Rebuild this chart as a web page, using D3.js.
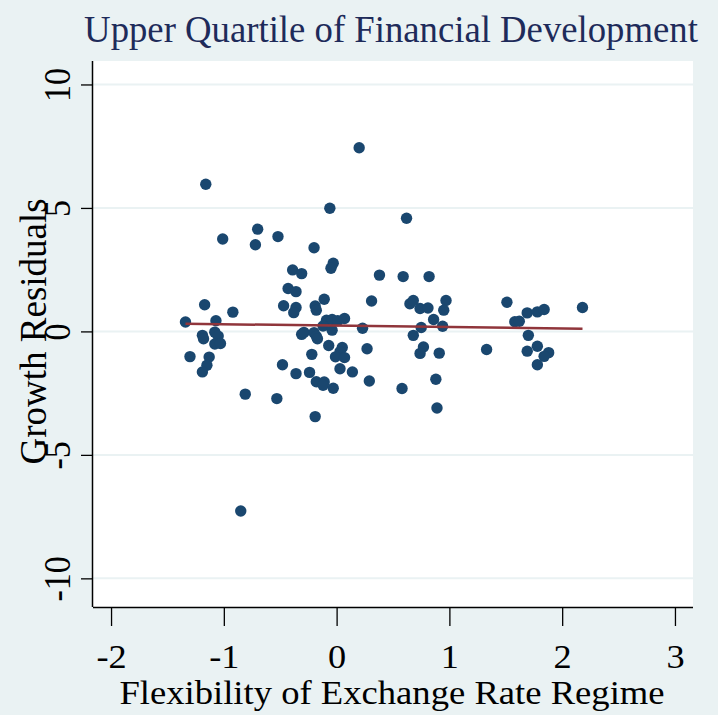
<!DOCTYPE html>
<html><head><meta charset="utf-8">
<script src="https://cdn.jsdelivr.net/npm/d3@7"></script>
<style>html,body{margin:0;padding:0;background:#eaf2f3;}svg{display:block;}</style>
</head><body>
<svg id="chart" width="718" height="715"></svg>
<script>
// Flexibility of exchange rate regime (x) and growth residuals (y)
const flexibility = [0.20,-1.16,-0.06,0.62,-1.01,-0.70,-0.72,-0.52,-0.20,-0.03,-0.05,-0.39,-0.31,0.38,0.59,0.82,-0.43,-0.36,-1.17,-0.92,-0.47,-0.36,-0.38,-0.19,-0.18,-0.11,0.31,0.65,0.68,0.74,0.81,0.97,0.95,0.86,0.75,0.94,0.68,0.77,0.74,0.91,0.88,0.89,0.58,1.33,1.51,1.58,1.62,1.69,1.78,1.84,2.18,1.70,1.78,1.69,1.88,1.84,1.78,-1.34,-1.07,-1.19,-1.18,-1.08,-1.05,-1.08,-1.03,-1.30,-1.13,-1.15,-1.19,-0.81,-0.53,-0.85,-0.19,-0.48,-0.36,-0.24,-0.22,-0.18,-0.11,-0.12,-0.03,-0.07,0.05,0.03,-0.01,0.07,0.03,0.14,0.27,0.29,0.23,-0.31,-0.29,-0.20,-0.18,-0.17,-0.09,-0.04,0.01,0.07,-0.12,-0.04];
const residuals = [7.44,5.96,4.99,4.58,3.74,4.14,3.51,3.84,3.39,2.76,2.56,2.49,2.34,2.28,2.22,2.22,1.74,1.61,1.08,0.78,1.04,0.97,0.76,1.03,0.86,1.30,1.23,1.12,1.25,0.93,0.95,1.25,0.86,0.48,0.16,0.21,-0.16,-0.63,-0.89,-0.88,-1.94,-3.10,-2.31,-0.73,1.18,0.39,0.41,0.75,0.79,0.89,0.97,-0.16,-0.60,-0.80,-0.86,-1.01,-1.35,0.38,0.43,-0.16,-0.30,-0.03,-0.19,-0.51,-0.49,-1.02,-1.04,-1.37,-1.64,-2.54,-2.72,-7.27,-3.45,-1.35,-1.71,-1.66,-0.93,-2.04,-2.05,-2.18,-2.30,-0.57,-0.65,-0.83,-1.03,-1.06,-1.51,-1.64,-0.70,-2.01,0.13,-0.12,-0.04,-0.05,-0.20,-0.30,0.45,0.48,0.43,0.52,0.22,0.05];
// Fitted line endpoints
const fitX = [-1.34, 2.18];
const fitY = [0.31, 0.11];
// Axis ticks
const xTicks = [-2,-1,0,1,2,3];
const yTicks = [-10,-5,0,5,10];

const titleText = "Upper Quartile of Financial Development";
const xTitle = "Flexibility of Exchange Rate Regime";
const yTitle = "Growth Residuals";

const svg = d3.select("#chart");
const W = 718, H = 715;
const plot = {left:93, right:693, top:61, bottom:607};
const FONT = "'Liberation Serif','Times New Roman',serif";
const fmt = d => d < 0 ? "-" + Math.abs(d) : String(d);

svg.append("rect").attr("width",W).attr("height",H).attr("fill","#eaf2f3");
svg.append("rect").attr("x",plot.left).attr("y",plot.top)
  .attr("width",plot.right-plot.left).attr("height",plot.bottom-plot.top).attr("fill","#ffffff");

const x = d3.scaleLinear().domain([-2.16,3.16]).range([plot.left,plot.right]);
const y = d3.scaleLinear().domain([-11.16,10.95]).range([plot.bottom,plot.top]);

// gridlines
svg.append("g").selectAll("line").data(yTicks).join("line")
  .attr("x1",plot.left).attr("x2",plot.right)
  .attr("y1",d=>y(d)).attr("y2",d=>y(d))
  .attr("stroke","#eaf2f3").attr("stroke-width",2);

// x axis
const xAxis = svg.append("g").attr("transform",`translate(0,${plot.bottom})`)
  .call(d3.axisBottom(x).tickValues(xTicks).tickSize(19));
xAxis.select(".domain").attr("stroke","#000").attr("stroke-width",1.5).attr("d",`M${plot.left},0.5H${plot.right}`);
xAxis.selectAll(".tick line").attr("stroke","#000").attr("stroke-width",1.3);
xAxis.selectAll(".tick text").remove();
xAxis.selectAll(".tick").append("text")
  .attr("transform","translate(0,61) scale(1.1,1)")
  .attr("text-anchor","middle").attr("font-family",FONT).attr("font-size",33).attr("fill","#000")
  .text(fmt);

// y axis
const yAxis = svg.append("g").attr("transform",`translate(${plot.left},0)`)
  .call(d3.axisLeft(y).tickValues(yTicks).tickSize(12));
yAxis.select(".domain").attr("stroke","#000").attr("stroke-width",1.5).attr("d",`M-0.5,${plot.top}V${plot.bottom}`);
yAxis.selectAll(".tick line").attr("stroke","#000").attr("stroke-width",1.3);
yAxis.selectAll(".tick text").remove();
yAxis.selectAll(".tick").append("text")
  .attr("transform","translate(-23,0) scale(1.12,1) rotate(-90)")
  .attr("text-anchor","middle").attr("font-family",FONT).attr("font-size",34).attr("fill","#000")
  .text(fmt);

// points
svg.append("g").selectAll("circle").data(flexibility.map((v,i)=>[v,residuals[i]])).join("circle")
  .attr("cx",d=>x(d[0])).attr("cy",d=>y(d[1])).attr("r",5.7).attr("fill","#1a476f");

// fitted line
svg.append("line").attr("x1",x(fitX[0])).attr("y1",y(fitY[0])).attr("x2",x(fitX[1])).attr("y2",y(fitY[1]))
  .attr("stroke","#90353b").attr("stroke-width",2.5);

// titles
svg.append("text").attr("transform","translate(391,42) scale(1.02,1.04)").attr("text-anchor","middle")
  .attr("font-family",FONT).attr("font-size",36).attr("fill","#1e2b5a").text(titleText);
svg.append("text").attr("transform","translate(392,704) scale(1.11,1)").attr("text-anchor","middle")
  .attr("font-family",FONT).attr("font-size",33).attr("fill","#000").text(xTitle);
svg.append("text").attr("transform",`translate(46,${y(0)}) rotate(-90)`).attr("text-anchor","middle")
  .attr("font-family",FONT).attr("font-size",37).attr("fill","#000").text(yTitle);
</script>
</body></html>
